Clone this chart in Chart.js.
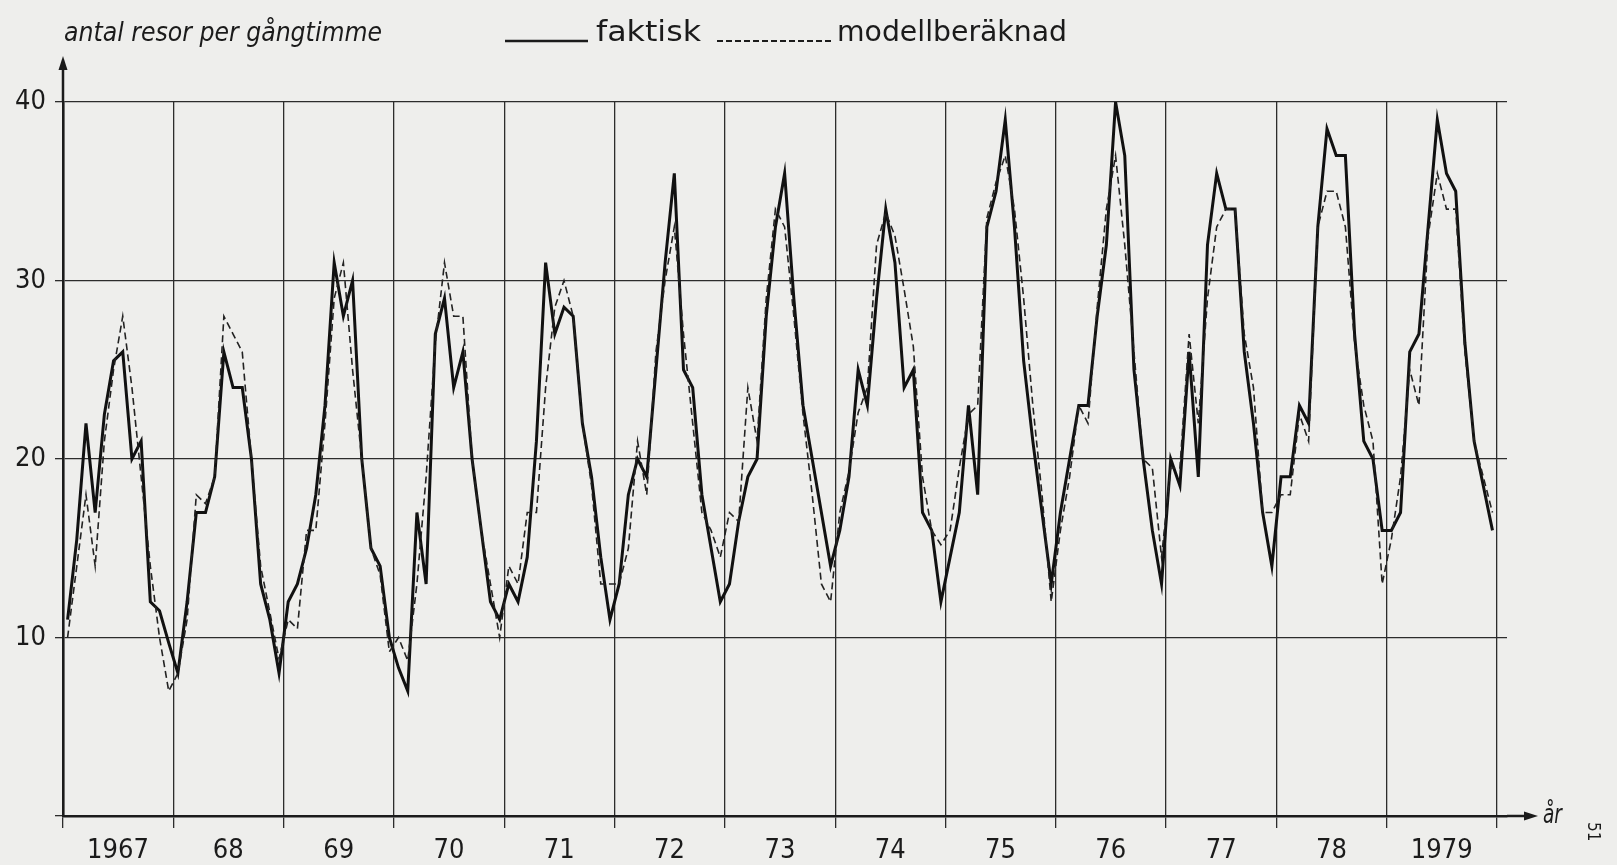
<!DOCTYPE html>
<html>
<head>
<meta charset="utf-8">
<script src="https://cdn.jsdelivr.net/npm/chart.js@4/dist/chart.umd.min.js"></script>
<style>
html,body{margin:0;padding:0;background:#eeeeec;}
canvas{display:block;}
</style>
</head>
<body>
<canvas id="c" width="1617" height="865"></canvas>
<script>
// ---- data ----
const years = [1967,1968,1969,1970,1971,1972,1973,1974,1975,1976,1977,1978,1979];
const yearLabels = ['1967','68','69','70','71','72','73','74','75','76','77','78','1979'];
const yTickValues = [0,10,20,30,40];
const seriesNames = ['faktisk','modellberäknad'];
const titleText = 'antal resor per gångtimme';
const xUnitText = 'år';
const pageText = '51';

// monthly values, one row per year (jan..dec)
const faktisk = [
  11, 15.5, 22, 17, 22.5, 25.5, 26, 20, 21, 12, 11.5, 9.7,
  8, 12, 17, 17, 19, 26, 24, 24, 20, 13, 11, 8,
  12, 13, 15, 18, 23, 31, 28, 30, 20, 15, 14, 10,
  8.3, 7, 17, 13, 27, 29, 24, 26, 20, 16, 12, 11,
  13, 12, 14.5, 21, 31, 27, 28.5, 28, 22, 19, 14.5, 11,
  13, 18, 20, 19, 25, 31, 36, 25, 24, 18, 15, 12,
  13, 16.5, 19, 20, 28, 33, 36, 29, 23, 20, 17, 14,
  16, 19, 25, 23, 29, 34, 31, 24, 25, 17, 16, 12,
  14.5, 17, 23, 18, 33, 35, 39, 33, 25.5, 21, 17, 13,
  17, 20, 23, 23, 28, 32, 40, 37, 25, 20, 16, 13,
  20, 18.5, 26, 19, 32, 36, 34, 34, 26, 22, 17, 14,
  19, 19, 23, 22, 33, 38.5, 37, 37, 27, 21, 20, 16,
  16, 17, 26, 27, 33, 39, 36, 35, 26.5, 21, 18.5, 16
];
const modell = [
  10, 14, 18, 14, 21, 25, 28, 24, 19, 14, 10, 7,
  8, 11, 18, 17.5, 19, 28, 27, 26, 20, 14, 11.4, 8.8,
  11, 10.5, 16, 16, 22, 29, 31, 25, 20, 15, 13.5, 9.2,
  10, 8.7, 13, 19, 26.5, 31, 28, 28, 20, 16, 13, 10,
  14, 13, 17, 17, 24, 28.5, 30, 28, 22, 18.5, 13, 13,
  13, 15, 21, 18, 26, 30, 33, 27, 22, 17, 16, 14.5,
  17, 16.5, 24, 21, 29, 34, 33, 28, 22.5, 18, 13, 12,
  17, 19.3, 22.6, 24, 32, 33.8, 32.5, 29.5, 26.3, 19, 16, 15.2,
  16, 19.5, 22.5, 23, 33.5, 35.5, 37, 34, 29, 23, 18, 12,
  16, 19, 23, 22, 28.5, 34, 37, 32, 26, 20, 19.5, 14.5,
  19.5, 19.5, 27, 22, 29, 33, 34, 34, 27, 24, 17, 17,
  18, 18, 22.5, 21, 33, 35, 35, 33, 26.5, 23, 21, 13,
  15.5, 19, 25, 23, 32.5, 36, 34, 34, 26, 21, 19, 17
];

const toPoints = arr => arr.map((v, i) => ({ x: years[0] + (i + 0.5) / 12, y: v }));
const lastYear = years[years.length - 1] + 1;

const fam = '"DejaVu Sans Condensed", "DejaVu Sans", sans-serif';
const tickFont = { family: fam, size: 27 };
const ink = '#1b1b1b';

const styleFaktisk = { borderColor: '#111', borderWidth: 3, borderDash: [] };
const styleModell = { borderColor: '#222', borderWidth: 1.6, borderDash: [7, 4] };

function fitText(ctx, text, x, y, targetW, font) {
  ctx.save();
  ctx.font = font;
  const w = ctx.measureText(text).width;
  ctx.translate(x, y);
  ctx.scale(targetW / w, 1);
  ctx.textAlign = 'left';
  ctx.fillText(text, 0, 0);
  ctx.restore();
}

const decor = {
  id: 'decor',
  afterDraw(chart) {
    const ctx = chart.ctx;
    const area = chart.chartArea;
    const ys = chart.scales.y;
    const x0 = chart.scales.x.left;
    const yb = ys.getPixelForValue(0);
    const yt = ys.getPixelForValue(40);
    ctx.save();
    ctx.fillStyle = ink;
    ctx.strokeStyle = ink;
    ctx.setLineDash([]);
    // y axis extension + arrow
    ctx.lineWidth = 2.5;
    ctx.beginPath(); ctx.moveTo(x0, yt); ctx.lineTo(x0, yt - 36); ctx.stroke();
    ctx.beginPath();
    ctx.moveTo(x0, yt - 46); ctx.lineTo(x0 - 4.5, yt - 32); ctx.lineTo(x0 + 4.5, yt - 32); ctx.closePath(); ctx.fill();
    // x axis extension + arrow
    ctx.beginPath(); ctx.moveTo(area.right, yb); ctx.lineTo(area.right + 22, yb); ctx.stroke();
    ctx.beginPath();
    ctx.moveTo(area.right + 31, yb); ctx.lineTo(area.right + 17, yb - 4.5); ctx.lineTo(area.right + 17, yb + 4.5); ctx.closePath(); ctx.fill();
    // år
    ctx.textBaseline = 'alphabetic';
    fitText(ctx, xUnitText, area.right + 36, yb + 7, 19, 'italic 26px ' + fam);
    // page number (rotated)
    ctx.save();
    ctx.translate(1592, 822);
    ctx.rotate(Math.PI / 2);
    ctx.font = '17px ' + fam;
    ctx.textAlign = 'left';
    ctx.textBaseline = 'middle';
    ctx.fillText(pageText, 0, 0);
    ctx.restore();
    // title
    ctx.textBaseline = 'alphabetic';
    fitText(ctx, titleText, 64, 41, 318, 'italic 27px ' + fam);
    // legend
    ctx.lineWidth = styleFaktisk.borderWidth - 0.5;
    ctx.setLineDash([]);
    ctx.beginPath(); ctx.moveTo(505, 41); ctx.lineTo(588, 41); ctx.stroke();
    fitText(ctx, seriesNames[0], 596, 41, 105, '29px ' + fam);
    ctx.lineWidth = 1.8;
    ctx.setLineDash([6, 3]);
    ctx.beginPath(); ctx.moveTo(717, 41); ctx.lineTo(833, 41); ctx.stroke();
    ctx.setLineDash([]);
    fitText(ctx, seriesNames[1], 837, 41, 230, '29px ' + fam);
    ctx.restore();
  }
};

new Chart(document.getElementById('c'), {
  type: 'line',
  data: {
    datasets: [
      Object.assign({ label: seriesNames[1], data: toPoints(modell), pointRadius: 0, tension: 0, fill: false }, styleModell),
      Object.assign({ label: seriesNames[0], data: toPoints(faktisk), pointRadius: 0, tension: 0, fill: false }, styleFaktisk)
    ]
  },
  options: {
    responsive: false,
    animation: false,
    devicePixelRatio: 1,
    events: [],
    layout: { padding: { top: 102, right: 110, bottom: 0, left: 0 } },
    plugins: { legend: { display: false }, tooltip: { enabled: false }, title: { display: false } },
    scales: {
      x: {
        type: 'linear',
        min: years[0],
        max: lastYear + 0.09,
        afterBuildTicks: s => { s.ticks = years.concat([lastYear]).map(v => ({ value: v })); },
        afterFit: s => { s.height = 49; },
        grid: { color: '#2c2c2c', lineWidth: 1.3, tickLength: 12, drawTicks: true },
        border: { display: true, color: ink, width: 2.6 },
        ticks: {
          autoSkip: false, maxRotation: 0, minRotation: 0, padding: 7,
          labelOffset: 55, color: ink, font: tickFont,
          callback: v => { const i = years.indexOf(v); return i >= 0 ? yearLabels[i] : ''; }
        }
      },
      y: {
        min: 0, max: 40,
        afterBuildTicks: s => { s.ticks = yTickValues.map(v => ({ value: v })); },
        afterFit: s => { s.width = 63; },
        grid: { color: '#2c2c2c', lineWidth: 1.3, tickLength: 8 },
        border: { display: true, color: ink, width: 2.6 },
        ticks: { padding: 9, color: ink, font: tickFont, callback: v => (v === 0 ? '' : String(v)) }
      }
    }
  },
  plugins: [decor]
});
</script>
</body>
</html>
